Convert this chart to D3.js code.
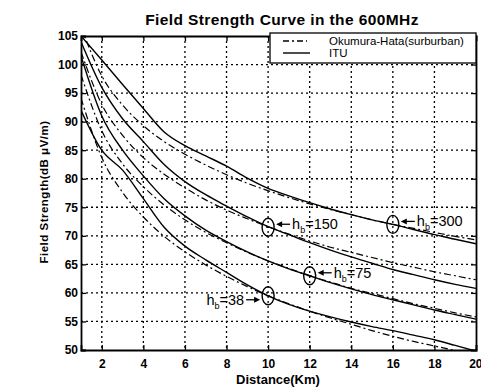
<!DOCTYPE html>
<html>
<head>
<meta charset="utf-8">
<script src="https://cdn.jsdelivr.net/npm/d3@7"></script>
<style>
  body { margin: 0; background: #fff; }
  svg { font-family: "Liberation Sans", Arial, sans-serif; }
</style>
</head>
<body>
<svg id="chart" width="481" height="388"></svg>
<script>
// distances (km) shared by all curves
const distance = [1, 2, 3, 4, 5, 6, 7, 8, 9, 10, 11, 12, 13, 14, 15, 16, 17, 18, 19, 20];

// ITU curves (solid), field strength dB(uV/m)
const itu300 = [105, 100.8, 96.5, 92.3, 88.2, 85.8, 84.0, 82.2, 80.1, 78.3, 77.0, 75.8, 74.7, 73.7, 72.8, 72.0, 71.1, 70.2, 69.4, 68.6];
const itu150 = [104, 96.0, 90.5, 86.5, 82.5, 79.5, 77.2, 75.2, 73.3, 71.6, 70.2, 68.8, 67.5, 66.3, 65.2, 64.1, 63.2, 62.3, 61.5, 60.8];
const itu75  = [101.5, 91.0, 85.0, 80.5, 76.5, 73.5, 71.0, 69.0, 67.2, 65.6, 64.2, 63.0, 61.8, 60.7, 59.7, 58.8, 57.9, 57.0, 56.2, 55.4];
const itu38  = [92.0, 85.0, 81.5, 76.5, 71.5, 68.2, 65.8, 63.6, 61.4, 59.5, 58.0, 56.8, 55.8, 54.9, 54.1, 53.4, 52.6, 51.8, 50.8, 49.8];

// Okumura-Hata suburban curves (dash-dot)
const ok300 = [106.6, 98.0, 92.9, 89.3, 86.5, 84.3, 82.4, 80.7, 79.2, 77.9, 76.7, 75.6, 74.6, 73.7, 72.8, 72.0, 71.3, 70.6, 69.9, 69.3];
const ok150 = [102.2, 93.0, 87.6, 83.7, 80.8, 78.4, 76.3, 74.5, 73.0, 71.6, 70.3, 69.1, 68.0, 67.1, 66.2, 65.3, 64.5, 63.7, 63.0, 62.3];
const ok75  = [98.2, 88.4, 82.6, 78.6, 75.4, 72.8, 70.6, 68.8, 67.1, 65.6, 64.3, 63.0, 61.9, 60.8, 59.9, 59.0, 58.1, 57.3, 56.5, 55.8];
const ok38  = [94.1, 83.7, 77.6, 73.3, 69.9, 67.2, 64.9, 62.9, 61.1, 59.5, 58.1, 56.8, 55.6, 54.5, 53.4, 52.4, 51.5, 50.7, 49.9, 49.1];

// tick values
const xTicks = [2, 4, 6, 8, 10, 12, 14, 16, 18, 20];
const yTicks = [50, 55, 60, 65, 70, 75, 80, 85, 90, 95, 100, 105];

// crossing marks: [distance, level, label, side]
const marks = [
  [10, 71.5, '150', 'right'],
  [16, 72.0, '300', 'right'],
  [12, 63.0, '75', 'right'],
  [10, 59.5, '38', 'left']
];

const svg = d3.select('#chart');
const pLeft = 81, pRight = 476, pTop = 36, pBottom = 350;

const x = d3.scaleLinear().domain([1, 20]).range([pLeft, pRight]);
const y = d3.scaleLinear().domain([50, 105]).range([pBottom, pTop]);

svg.append('defs').append('clipPath').attr('id', 'plot')
  .append('rect')
  .attr('x', pLeft).attr('y', pTop)
  .attr('width', pRight - pLeft).attr('height', pBottom - pTop);

// dotted grid
const grid = svg.append('g').attr('stroke', '#000').attr('stroke-width', 1.3)
  .attr('stroke-dasharray', '2,3');
grid.selectAll('.gx').data(xTicks.filter(d => d < 20)).enter().append('line')
  .attr('x1', d => x(d)).attr('x2', d => x(d))
  .attr('y1', pTop).attr('y2', pBottom);
grid.selectAll('.gy').data(yTicks.filter(d => d > 50 && d < 105)).enter().append('line')
  .attr('x1', pLeft).attr('x2', pRight)
  .attr('y1', d => y(d)).attr('y2', d => y(d));

// axes
const xAxis = svg.append('g')
  .attr('transform', 'translate(0,' + pBottom + ')')
  .call(d3.axisBottom(x).tickValues(xTicks).tickSize(-5).tickPadding(9));
const xTop = svg.append('g')
  .attr('transform', 'translate(0,' + pTop + ')')
  .call(d3.axisTop(x).tickValues(xTicks).tickSize(-5).tickFormat(''));
const yAxis = svg.append('g')
  .attr('transform', 'translate(' + pLeft + ',0)')
  .call(d3.axisLeft(y).tickValues(yTicks).tickSize(-5).tickPadding(3));
const yRight = svg.append('g')
  .attr('transform', 'translate(' + pRight + ',0)')
  .call(d3.axisRight(y).tickValues(yTicks).tickSize(-5).tickFormat(''));

[xAxis, xTop, yAxis, yRight].forEach(a => {
  a.select('.domain').attr('stroke-width', 1.8);
  a.selectAll('.tick line').attr('stroke-width', 1.3);
  a.selectAll('text').attr('font-size', 12).attr('font-weight', 'bold')
    .attr('font-family', '"Liberation Sans", Arial, sans-serif').attr('fill', '#000');
});
// last x label sits at the window edge
xAxis.selectAll('.tick text').filter(d => d === 20).attr('text-anchor', 'end').attr('dx', 6);

// curves
const line = d3.line()
  .x((d, i) => x(distance[i]))
  .y(d => y(d))
  .curve(d3.curveMonotoneX);

const curves = svg.append('g').attr('clip-path', 'url(#plot)').attr('fill', 'none').attr('stroke', '#000');
[itu300, itu150, itu75, itu38].forEach(s => {
  curves.append('path').attr('d', line(s)).attr('stroke-width', 1.4);
});
[ok300, ok150, ok75, ok38].forEach(s => {
  curves.append('path').attr('d', line(s)).attr('stroke-width', 1.2)
    .attr('stroke-dasharray', '7,3,2,3');
});

// annotations
const ann = svg.append('g');
marks.forEach(m => {
  const cx = x(m[0]), cy = y(m[1]);
  ann.append('ellipse').attr('cx', cx).attr('cy', cy).attr('rx', 6).attr('ry', 9)
    .attr('fill', 'none').attr('stroke', '#000').attr('stroke-width', 1.4);
  ann.append('line').attr('x1', cx - 2).attr('x2', cx + 2).attr('y1', cy).attr('y2', cy)
    .attr('stroke', '#000');
  const dir = m[3] === 'right' ? 1 : -1;
  const ay = m[3] === 'right' ? cy - 3 : cy + 4;
  const x0 = cx + dir * 8, x1 = cx + dir * 22;
  ann.append('line').attr('x1', x1).attr('x2', x0 + dir * 4).attr('y1', ay).attr('y2', ay)
    .attr('stroke', '#000').attr('stroke-width', 1.3);
  ann.append('path')
    .attr('d', 'M' + x0 + ',' + ay + 'L' + (x0 + dir * 6) + ',' + (ay - 3) + 'L' + (x0 + dir * 6) + ',' + (ay + 3) + 'Z')
    .attr('fill', '#000');
  const t = ann.append('text')
    .attr('x', m[3] === 'right' ? x1 + 2 : x1 - 2)
    .attr('y', ay + 5)
    .attr('text-anchor', m[3] === 'right' ? 'start' : 'end')
    .attr('font-size', 14.5).attr('fill', '#000');
  t.append('tspan').text('h');
  t.append('tspan').text('b').attr('font-size', 9).attr('dy', 4);
  t.append('tspan').text('=' + m[2]).attr('dy', -4);
});

// legend
const lg = svg.append('g');
lg.append('rect').attr('x', 270).attr('y', 33).attr('width', 206).attr('height', 30)
  .attr('fill', '#fff').attr('stroke', '#000').attr('stroke-width', 1.3);
lg.append('line').attr('x1', 283).attr('x2', 307).attr('y1', 41).attr('y2', 41)
  .attr('stroke', '#000').attr('stroke-width', 1.3).attr('stroke-dasharray', '6,3,2,3');
lg.append('line').attr('x1', 283).attr('x2', 310).attr('y1', 53).attr('y2', 53)
  .attr('stroke', '#000').attr('stroke-width', 1.4);
lg.append('text').attr('x', 329).attr('y', 45).attr('font-size', 11.5)
  .text('Okumura-Hata(surburban)');
lg.append('text').attr('x', 329).attr('y', 57).attr('font-size', 11.5).text('ITU');

// titles
svg.append('text').attr('x', 282).attr('y', 25).attr('text-anchor', 'middle')
  .attr('font-size', 15.5).attr('font-weight', 'bold').attr('letter-spacing', 0.4)
  .text('Field Strength Curve in the 600MHz');
svg.append('text').attr('x', 278).attr('y', 384).attr('text-anchor', 'middle')
  .attr('font-size', 13).attr('font-weight', 'bold').text('Distance(Km)');
svg.append('text').attr('transform', 'translate(48,192) rotate(-90)').attr('text-anchor', 'middle')
  .attr('font-size', 11.5).attr('font-weight', 'bold').attr('letter-spacing', 0.5)
  .text('Field Strength(dB μV/m)');
</script>
</body>
</html>
